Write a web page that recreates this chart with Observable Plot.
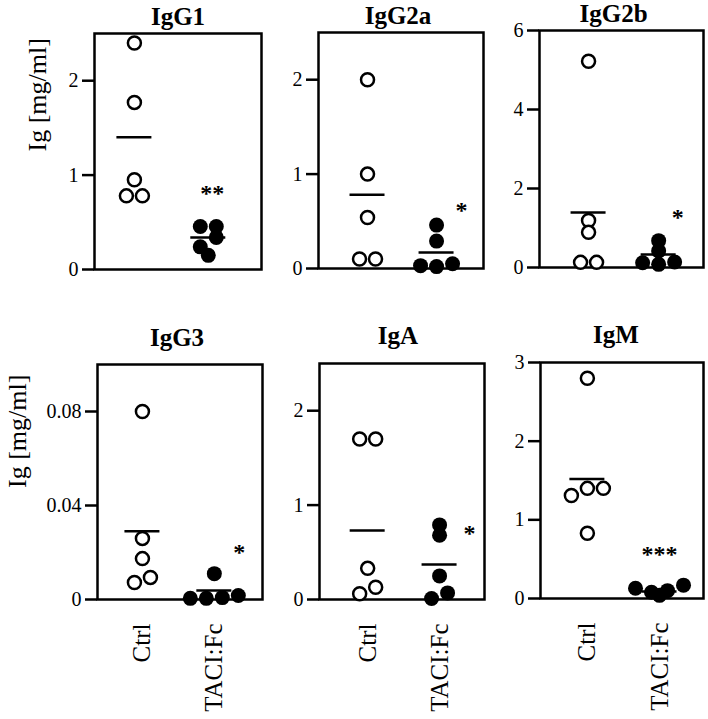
<!DOCTYPE html>
<html><head><meta charset="utf-8">
<script src="https://cdn.jsdelivr.net/npm/d3@7"></script>
<script src="https://cdn.jsdelivr.net/npm/@observablehq/plot@0.6"></script>
<style>
html,body{margin:0;padding:0;background:#fff;}
#chart{position:relative;width:708px;height:719px;overflow:hidden;}
#chart svg{position:absolute;}
</style></head><body><div id="chart"></div>
<script>
// ---- data ----
const groups = ["Ctrl", "TACI:Fc"];
const panels = ["IgG1", "IgG2a", "IgG2b", "IgG3", "IgA", "IgM"];

const ctrlIgG1 = [2.40, 1.77, 0.95, 0.78, 0.78];
const taciIgG1 = [0.455, 0.455, 0.24, 0.34, 0.15];
const ctrlIgG2a = [2.00, 1.00, 0.54, 0.10, 0.10];
const taciIgG2a = [0.46, 0.29, 0.03, 0.02, 0.05];
const ctrlIgG2b = [5.22, 1.19, 0.89, 0.13, 0.13];
const taciIgG2b = [0.68, 0.42, 0.12, 0.08, 0.14];
const ctrlIgG3 = [0.080, 0.026, 0.0174, 0.0072, 0.0094];
const taciIgG3 = [0.011, 0.0005, 0.0005, 0.0008, 0.0017];
const ctrlIgA = [1.70, 1.70, 0.33, 0.06, 0.13];
const taciIgA = [0.79, 0.68, 0.25, 0.01, 0.07];
const ctrlIgM = [2.80, 1.31, 1.40, 1.40, 0.83];
const taciIgM = [0.13, 0.08, 0.04, 0.10, 0.17];

const meanCtrl = [1.40, 0.78, 1.39, 0.029, 0.73, 1.52];
const meanTaci = [0.34, 0.17, 0.33, 0.0038, 0.37, 0.09];
const stars = ["**", "*", "*", "*", "*", "***"];
const starY = [0.86, 0.67, 1.39, 0.022, 0.75, 0.62];
const yMax = [2.5, 2.5, 6, 0.1, 2.5, 3];
const yTicks = [[0, 1, 2], [0, 1, 2], [0, 2, 4, 6], [0, 0.04, 0.08], [0, 1, 2], [0, 1, 2, 3]];
const yLabel = "Ig [mg/ml]";

const ctrlValues = [ctrlIgG1, ctrlIgG2a, ctrlIgG2b, ctrlIgG3, ctrlIgA, ctrlIgM];
const taciValues = [taciIgG1, taciIgG2a, taciIgG2b, taciIgG3, taciIgA, taciIgM];

// ---- layout (pixels) ----
const layout = [
  {left: 0,   top: 0,   width: 268, height: 300, ml: 94, mr: 7, mt: 33, mb: 31,  xd: [-0.54, 1.72],  starDx: 4,  titleDx: 0,  titleGap: 9,  ylab: [-57, 0]},
  {left: 268, top: 0,   width: 220, height: 300, ml: 50, mr: 5, mt: 32, mb: 32,  xd: [-0.71, 1.68],  starDx: 25, titleDx: -3, titleGap: 9},
  {left: 488, top: 0,   width: 220, height: 300, ml: 51, mr: 5, mt: 30, mb: 33,  xd: [-0.70, 1.64],  starDx: 19, titleDx: -8, titleGap: 9},
  {left: 0,   top: 300, width: 268, height: 419, ml: 97, mr: 6, mt: 64, mb: 120, xd: [-0.625, 1.67], starDx: 25, titleDx: -3, titleGap: 19, ylab: [-80, 6]},
  {left: 268, top: 300, width: 220, height: 419, ml: 51, mr: 4, mt: 63, mb: 120, xd: [-0.67, 1.625], starDx: 30, titleDx: -4, titleGap: 20},
  {left: 488, top: 300, width: 220, height: 419, ml: 52, mr: 5, mt: 62, mb: 121, xd: [-0.65, 1.61],  starDx: 0,  titleDx: -6, titleGap: 20}
];
const STEP = 16;      // px between side-by-side points
const ROW_GAP = 10;   // px: points closer than this share a row
const HALF = 17.5;    // px half-width of mean line
const FONT = "'Liberation Serif', 'Times New Roman', serif";

const chart = document.getElementById("chart");

panels.forEach((name, i) => {
  const L = layout[i];
  const frameW = L.width - L.ml - L.mr;
  const frameH = L.height - L.mt - L.mb;
  const pxPerX = frameW / (L.xd[1] - L.xd[0]);
  const pxPerY = frameH / yMax[i];

  const pts = [];
  [ctrlValues[i], taciValues[i]].forEach((vals, g) => {
    const idx = vals.map((v, k) => k).sort((a, b) => vals[b] - vals[a] || a - b);
    const rows = [];
    let cur = null;
    for (const k of idx) {
      const ypx = vals[k] * pxPerY;
      if (cur && cur.top - ypx < ROW_GAP) cur.items.push(k);
      else { cur = {top: ypx, items: [k]}; rows.push(cur); }
    }
    for (const row of rows) {
      row.items.sort((a, b) => a - b);
      const n = row.items.length;
      row.items.forEach((k, j) => pts.push({group: g, value: vals[k], x: g + (j - (n - 1) / 2) * STEP / pxPerX}));
    }
  });
  const means = [{group: 0, value: meanCtrl[i]}, {group: 1, value: meanTaci[i]}];
  const bottomRow = i >= 3;

  const marks = [
    Plot.frame({strokeWidth: 2.5, stroke: "black"}),
    Plot.axisY({ticks: yTicks[i], tickFormat: d => String(d), tickSize: 12, tickPadding: 4,
                strokeWidth: 2.5, fontSize: 20, label: null}),
    Plot.ruleY(means, {y: "value", x1: d => d.group - HALF / pxPerX, x2: d => d.group + HALF / pxPerX,
                       stroke: "black", strokeWidth: 2.5}),
    Plot.dot(pts.filter(d => d.group === 0), {x: "x", y: "value", r: 6.5, fill: "white", stroke: "black", strokeWidth: 2.5}),
    Plot.dot(pts.filter(d => d.group === 1), {x: "x", y: "value", r: 7.5, fill: "black"}),
    Plot.text([stars[i]], {x: 1 + L.starDx / pxPerX, y: starY[i], fontSize: 24, fontWeight: "bold", dy: 5}),
    Plot.text([name], {frameAnchor: "top", dy: -L.titleGap, dx: L.titleDx, lineAnchor: "bottom",
                       fontSize: 25, fontWeight: "bold"})
  ];
  if (bottomRow) {
    marks.push(Plot.axisX({ticks: [0, 1], tickFormat: k => groups[k], tickRotate: -90, tickSize: 0,
                           tickPadding: 24, fontSize: 25, label: null}));
  }
  if (L.ylab) {
    marks.push(Plot.text([yLabel], {frameAnchor: "left", rotate: -90, dx: L.ylab[0], dy: L.ylab[1],
                                    lineAnchor: "middle", fontSize: 26}));
  }

  const svg = Plot.plot({
    width: L.width, height: L.height,
    marginLeft: L.ml, marginRight: L.mr, marginTop: L.mt, marginBottom: L.mb,
    x: {domain: L.xd, axis: bottomRow ? undefined : null},
    y: {domain: [0, yMax[i]]},
    style: {fontFamily: FONT, background: "transparent", color: "black", overflow: "visible"},
    marks
  });
  svg.style.left = L.left + "px";
  svg.style.top = L.top + "px";
  chart.appendChild(svg);
});
</script>
</body></html>
